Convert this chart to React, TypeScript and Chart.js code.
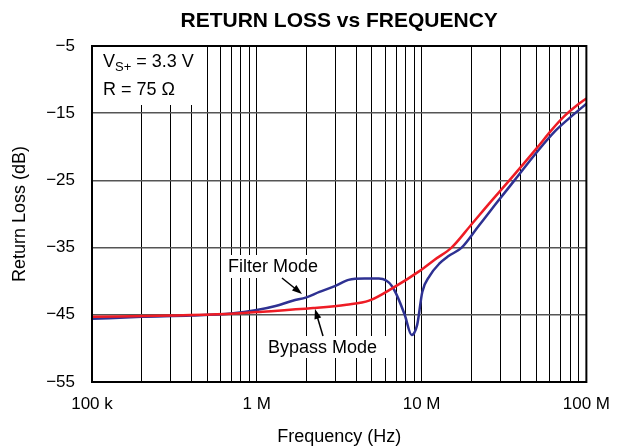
import React, { useEffect, useRef } from 'react';
import { Chart, registerables } from 'chart.js';

Chart.register(...registerables);

const FONT = '"Liberation Sans", Arial, Helvetica, sans-serif';

const titleText = 'RETURN LOSS vs FREQUENCY';
const xAxisTitle = 'Frequency (Hz)';
const yAxisTitle = 'Return Loss (dB)';

// x axis: decades with labels, minor gridlines at 2..9 x decade
const decadeValues = [1e5, 1e6, 1e7, 1e8];
const decadeLabels = ['100 k', '1 M', '10 M', '100 M'];
const minorMultipliers = [2, 3, 4, 5, 6, 7, 8, 9];

// y axis
const yMin = -55;
const yMax = -5;
const yStep = 10;

// Filter Mode (blue)
const filterFreqMHz = [0.1, 0.2, 0.4, 0.7, 1.0, 1.3, 1.65, 2.0, 2.4, 3.0, 3.6, 4.5, 5.5, 6.1, 6.6, 7.05, 7.9, 8.7, 9.4, 10.1, 11.2, 12.8, 14.5, 17.5, 22, 28, 36.6, 50, 65, 84.5, 100];
const filterDb = [-45.6, -45.3, -45.1, -44.8, -44.3, -43.7, -42.9, -42.4, -41.6, -40.7, -39.8, -39.6, -39.6, -39.9, -40.7, -42.0, -45.0, -48.0, -46.5, -41.6, -39.2, -37.4, -36.3, -35.0, -31.9, -28.6, -25.0, -20.8, -17.6, -15.1, -13.6];

// Bypass Mode (red)
const bypassFreqMHz = [0.1, 0.3, 0.7, 1.0, 2.2, 3.5, 4.8, 6.7, 9.7, 12, 15.2, 20, 26, 34.1, 50, 62, 74.6, 87, 100];
const bypassDb = [-45.3, -45.1, -44.85, -44.6, -44.0, -43.5, -42.9, -41.0, -38.5, -36.8, -35.0, -31.6, -28.3, -25.0, -20.2, -17.4, -15.3, -13.9, -12.8];

const condLine1 = { main: 'V', sub: 'S+', rest: ' = 3.3 V' };
const condLine2 = 'R = 75 Ω';
const filterLabel = 'Filter Mode';
const bypassLabel = 'Bypass Mode';

const BLUE = '#2e3192';
const RED = '#ee1c25';

function drawArrow(ctx: CanvasRenderingContext2D, x1: number, y1: number, x2: number, y2: number) {
  const ang = Math.atan2(y2 - y1, x2 - x1);
  const hl = 10;
  const hw = 3.5;
  ctx.beginPath();
  ctx.moveTo(x1, y1);
  ctx.lineTo(x2 - Math.cos(ang) * hl * 0.8, y2 - Math.sin(ang) * hl * 0.8);
  ctx.lineWidth = 1.5;
  ctx.strokeStyle = '#000';
  ctx.stroke();
  ctx.beginPath();
  ctx.moveTo(x2, y2);
  ctx.lineTo(x2 - Math.cos(ang) * hl - Math.sin(ang) * hw, y2 - Math.sin(ang) * hl + Math.cos(ang) * hw);
  ctx.lineTo(x2 - Math.cos(ang) * hl + Math.sin(ang) * hw, y2 - Math.sin(ang) * hl - Math.cos(ang) * hw);
  ctx.closePath();
  ctx.fillStyle = '#000';
  ctx.fill();
}

const overlayPlugin = {
  id: 'overlay',
  beforeDatasetsDraw(chart: any) {
    const { ctx, chartArea: a } = chart;
    ctx.save();
    ctx.fillStyle = '#fff';
    // condition text box
    ctx.fillRect(a.left + 1, a.top + 1, 112, 58);
    // Filter Mode label box
    ctx.fillRect(a.left + 133, a.top + 209, 100, 23);
    // Bypass Mode label box
    ctx.fillRect(a.left + 173, a.top + 290, 122, 22);
    ctx.restore();
  },
  afterDraw(chart: any) {
    const { ctx, chartArea: a } = chart;
    ctx.save();
    // frame
    ctx.strokeStyle = '#000';
    ctx.lineWidth = 2;
    ctx.strokeRect(a.left, a.top, a.right - a.left, a.bottom - a.top);

    ctx.fillStyle = '#000';
    // title
    ctx.font = `bold 21px ${FONT}`;
    ctx.textAlign = 'center';
    ctx.textBaseline = 'alphabetic';
    ctx.fillText(titleText, (a.left + a.right) / 2, 27);

    // axis titles
    ctx.font = `18px ${FONT}`;
    ctx.fillText(xAxisTitle, (a.left + a.right) / 2, 442);
    ctx.save();
    ctx.translate(25, (a.top + a.bottom) / 2);
    ctx.rotate(-Math.PI / 2);
    ctx.fillText(yAxisTitle, 0, 0);
    ctx.restore();

    // conditions
    ctx.textAlign = 'left';
    ctx.font = `18px ${FONT}`;
    let cx = a.left + 11;
    ctx.fillText(condLine1.main, cx, a.top + 21);
    cx += ctx.measureText(condLine1.main).width;
    ctx.font = `13px ${FONT}`;
    ctx.fillText(condLine1.sub, cx, a.top + 25);
    cx += ctx.measureText(condLine1.sub).width;
    ctx.font = `18px ${FONT}`;
    ctx.fillText(condLine1.rest, cx, a.top + 21);
    ctx.fillText(condLine2, a.left + 11, a.top + 49);

    // curve labels
    ctx.fillText(filterLabel, a.left + 136, a.top + 226);
    ctx.fillText(bypassLabel, a.left + 176, a.top + 307);

    drawArrow(ctx, a.left + 190, a.top + 232, a.left + 210, a.top + 248);
    drawArrow(ctx, a.left + 231, a.top + 290, a.left + 223, a.top + 263);
    ctx.restore();
  },
};

export default function App() {
  const canvasRef = useRef<HTMLCanvasElement | null>(null);

  useEffect(() => {
    if (!canvasRef.current) return;
    const xTickValues: number[] = [];
    decadeValues.forEach((d, i) => {
      xTickValues.push(d);
      if (i < decadeValues.length - 1) minorMultipliers.forEach((m) => xTickValues.push(d * m));
    });
    xTickValues.sort((p, q) => p - q);

    const chart = new Chart(canvasRef.current, {
      type: 'line',
      data: {
        datasets: [
          {
            label: filterLabel,
            data: filterFreqMHz.map((f, i) => ({ x: f * 1e6, y: filterDb[i] })),
            borderColor: BLUE,
            borderWidth: 2.5,
            pointRadius: 0,
            cubicInterpolationMode: 'monotone',
            order: 1,
          },
          {
            label: bypassLabel,
            data: bypassFreqMHz.map((f, i) => ({ x: f * 1e6, y: bypassDb[i] })),
            borderColor: RED,
            borderWidth: 2.5,
            pointRadius: 0,
            cubicInterpolationMode: 'monotone',
            order: 0,
          },
        ],
      },
      options: {
        animation: false,
        responsive: false,
        layout: { padding: { top: 46, right: 35, left: 0, bottom: 0 } },
        plugins: { legend: { display: false }, tooltip: { enabled: false }, title: { display: false } },
        scales: {
          x: {
            type: 'logarithmic',
            min: decadeValues[0],
            max: decadeValues[decadeValues.length - 1],
            afterBuildTicks: (scale: any) => {
              scale.ticks = xTickValues.map((v) => ({ value: v }));
            },
            afterFit: (scale: any) => {
              scale.height = 65;
            },
            ticks: {
              autoSkip: false,
              maxRotation: 0,
              minRotation: 0,
              padding: 12,
              color: '#000',
              font: { family: FONT, size: 17 },
              callback: (value: any) => {
                const idx = decadeValues.indexOf(Number(value));
                return idx >= 0 ? decadeLabels[idx] : '';
              },
            },
            grid: { color: '#000', lineWidth: 1, drawTicks: false },
            border: { display: false },
          },
          y: {
            type: 'linear',
            min: yMin,
            max: yMax,
            afterFit: (scale: any) => {
              scale.width = 92;
            },
            ticks: {
              stepSize: yStep,
              padding: 17,
              color: '#000',
              font: { family: FONT, size: 17 },
              callback: (value: any) => String(value).replace('-', '\u2212'),
            },
            grid: { color: '#555', lineWidth: 1.5, drawTicks: false },
            border: { display: false },
          },
        },
      },
      plugins: [overlayPlugin],
    } as any);
    return () => chart.destroy();
  }, []);

  return (
    <div style={{ position: 'absolute', left: 0, top: 0, width: 622, height: 447, background: '#fff' }}>
      <canvas ref={canvasRef} width={622} height={447} style={{ display: 'block' }} />
    </div>
  );
}
